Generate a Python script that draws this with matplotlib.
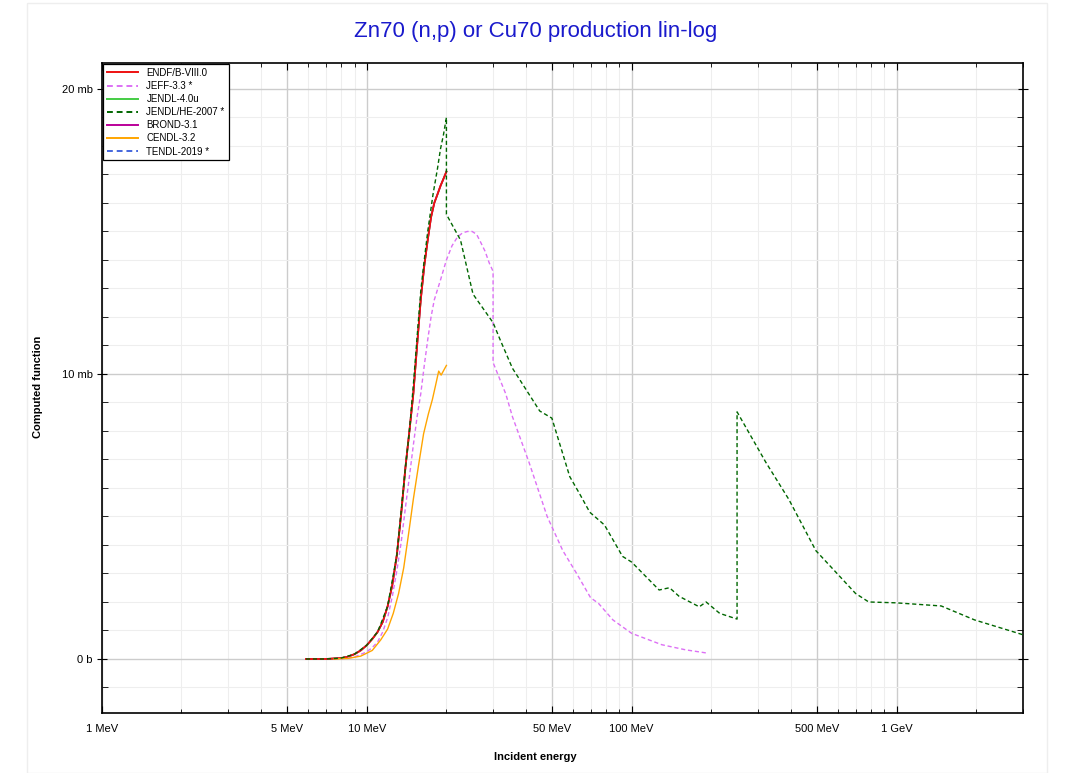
import matplotlib
matplotlib.use("Agg")
import matplotlib.pyplot as plt
from matplotlib.ticker import FixedLocator, FixedFormatter
from matplotlib.patches import Rectangle

plt.rcParams["font.family"] = ["Liberation Sans", "DejaVu Sans"]

# energies in MeV, cross sections in mb
endf_e = [5.9, 7.0, 8.0, 8.5, 9.0, 9.5, 10.0, 10.5, 11.0, 11.5, 12.0, 12.5, 13.0, 13.5,
          14.0, 14.5, 15.0, 15.5, 16.0, 16.5, 17.0, 17.5, 18.0, 18.5, 19.0, 19.5, 20.0]
endf_xs = [0.0, 0.0, 0.03, 0.08, 0.17, 0.3, 0.48, 0.7, 0.95, 1.3, 1.85, 2.6, 3.65, 5.1,
           6.7, 8.0, 9.3, 11.0, 12.6, 13.8, 14.7, 15.5, 16.0, 16.3, 16.6, 16.85, 17.1]

jeff_e = [8.0, 9.0, 10.0, 10.5, 11.0, 11.5, 12.0, 12.5, 13.0, 13.5, 14.0, 14.5, 15.0, 15.5,
          16.0, 16.5, 17.0, 17.5, 18.0, 19.0, 20.0, 21.0, 22.0, 23.0, 24.0, 25.0, 26.0, 27.0,
          28.0, 29.0, 30.0, 30.0, 33.5, 35.5, 41.0, 48.0, 55.0, 62.0, 70.0, 75.0, 85.0, 100.0,
          130.0, 160.0, 195.0]
jeff_xs = [0.0, 0.07, 0.25, 0.4, 0.6, 0.95, 1.45, 2.2, 3.1, 4.1, 5.3, 6.4, 7.5, 8.5,
           9.3, 10.3, 11.2, 12.0, 12.6, 13.3, 14.0, 14.5, 14.8, 14.95, 15.0, 15.0, 14.9, 14.6,
           14.3, 13.9, 13.6, 10.4, 9.3, 8.5, 6.9, 5.0, 3.8, 3.0, 2.15, 1.95, 1.37, 0.9,
           0.5, 0.32, 0.2]

jhe_e = [5.9, 7.0, 8.0, 9.0, 10.0, 11.0, 12.0, 13.0, 14.0, 14.5, 15.0, 15.5, 16.0, 16.4,
         17.0, 17.8, 18.5, 19.0, 19.5, 20.0, 20.0, 22.6, 25.2, 30.0, 31.9, 35.5, 45.0, 50.0,
         58.4, 63.6, 69.5, 79.0, 92.4, 100.0, 127.0, 139.0, 151.0, 180.0, 191.0, 215.0, 250.0,
         250.0, 321.0, 392.0, 496.0, 700.0, 785.0, 995.0, 1474.0, 1970.0, 3000.0]
jhe_xs = [0.0, 0.0, 0.03, 0.17, 0.48, 0.95, 1.85, 3.65, 6.7, 8.0, 9.6, 11.3, 12.9, 13.8,
          15.0, 16.3, 17.2, 17.9, 18.4, 19.0, 15.6, 14.7, 12.8, 11.8, 11.2, 10.2, 8.7, 8.45,
          6.4, 5.8, 5.15, 4.7, 3.6, 3.4, 2.42, 2.5, 2.2, 1.83, 2.0, 1.6, 1.4,
          8.67, 6.9, 5.6, 3.8, 2.3, 2.0, 1.97, 1.86, 1.37, 0.85]

cendl_e = [7.5, 8.5, 9.5, 10.5, 11.3, 12.0, 12.6, 13.2, 13.8, 14.4, 15.0, 15.7, 16.4,
           17.1, 17.7, 18.2, 18.7, 19.1, 20.0]
cendl_xs = [0.0, 0.02, 0.1, 0.3, 0.67, 1.05, 1.6, 2.3, 3.2, 4.4, 5.6, 6.8, 7.9,
            8.6, 9.1, 9.6, 10.1, 9.96, 10.3]

tendl_e = []
tendl_xs = []

x_major = [1, 5, 10, 50, 100, 500, 1000]
x_labels = ["1 MeV", "5 MeV", "10 MeV", "50 MeV", "100 MeV", "500 MeV", "1 GeV"]
y_major = [0, 10, 20]
y_labels = ["0 b", "10 mb", "20 mb"]

fig = plt.figure(figsize=(10.71, 7.73), dpi=100)
ax = fig.add_axes([101.7 / 1071, 1 - 712.7 / 773, (1023 - 101.7) / 1071, (712.7 - 63.3) / 773])

fig.patches.append(Rectangle((27 / 1071, 0.0), (1047 - 27) / 1071, 0.996, transform=fig.transFigure,
                             fill=False, edgecolor="#eeeeee", lw=1))

ax.plot(endf_e, endf_xs, color="#44cc44", lw=1.2, label="JENDL-4.0u", zorder=2)
ax.plot(endf_e, endf_xs, color="#bb0099", lw=1.2, label="BROND-3.1", zorder=2)
ax.plot(endf_e, endf_xs, color="#ee1111", lw=1.3, label="ENDF/B-VIII.0", zorder=3)
ax.plot(jeff_e, jeff_xs, color="#dd70f5", lw=1.0, ls=(0, (3, 2)), label="JEFF-3.3 *", zorder=3)
ax.plot(jhe_e, jhe_xs, color="#006600", lw=1.0, ls=(0, (3, 2)), label="JENDL/HE-2007 *", zorder=4)
ax.plot(cendl_e, cendl_xs, color="#ffa500", lw=1.0, label="CENDL-3.2", zorder=3)
ax.plot(tendl_e, tendl_xs, color="#4466dd", lw=1.0, ls=(0, (3, 2)), label="TENDL-2019 *", zorder=3)

ax.set_xscale("log")
ax.set_xlim(1, 3000)
ax.set_ylim(-1.885, 20.9)

x_minor = [m * 10 ** k for k in range(0, 4) for m in range(2, 10)
           if m * 10 ** k not in x_major and m * 10 ** k <= 3000]
ax.xaxis.set_major_locator(FixedLocator(x_major))
ax.xaxis.set_major_formatter(FixedFormatter(x_labels))
ax.xaxis.set_minor_locator(FixedLocator(x_minor))
ax.yaxis.set_major_locator(FixedLocator(y_major))
ax.yaxis.set_major_formatter(FixedFormatter(y_labels))
ax.yaxis.set_minor_locator(FixedLocator([v for v in range(-1, 21) if v not in y_major]))

ax.tick_params(axis="x", which="both", direction="in", top=True, labelsize=8, pad=8)
ax.tick_params(axis="x", which="major", length=5)
ax.tick_params(axis="x", which="minor", length=3)
ax.tick_params(axis="y", which="major", direction="inout", length=7, right=True, labelsize=8, pad=3)
ax.tick_params(axis="y", which="minor", direction="in", length=4, right=True)

ax.grid(True, which="major", color="#cccccc", lw=1.0, zorder=0)
ax.grid(True, which="minor", color="#eeeeee", lw=0.8, zorder=0)
ax.set_axisbelow(True)
for s in ax.spines.values():
    s.set_linewidth(1.2)

handles, labels = ax.get_legend_handles_labels()
order = ["ENDF/B-VIII.0", "JEFF-3.3 *", "JENDL-4.0u", "JENDL/HE-2007 *", "BROND-3.1", "CENDL-3.2", "TENDL-2019 *"]
hmap = dict(zip(labels, handles))
leg = ax.legend([hmap[k] for k in order], order, loc="upper left", bbox_to_anchor=(0.001, 0.999),
                fontsize=7, frameon=True, fancybox=False, framealpha=1, edgecolor="black",
                handlelength=3.2, handletextpad=0.9, labelspacing=0.32, borderpad=0.4, borderaxespad=0)
leg.get_frame().set_linewidth(0.9)
for line in leg.get_lines():
    line.set_linewidth(1.4)

fig.text(0.5, 1 - 32 / 773, "Zn70 (n,p) or Cu70 production lin-log", color="#1a1acc",
         fontsize=16, ha="center", va="center")
fig.text(0.5, 1 - 757 / 773, "Incident energy", fontsize=8, fontweight="bold", ha="center", va="center")
fig.text(38 / 1071, 1 - 387 / 773, "Computed function", fontsize=8, fontweight="bold",
         rotation=90, ha="center", va="center")

fig.savefig("out.png", dpi=100)
